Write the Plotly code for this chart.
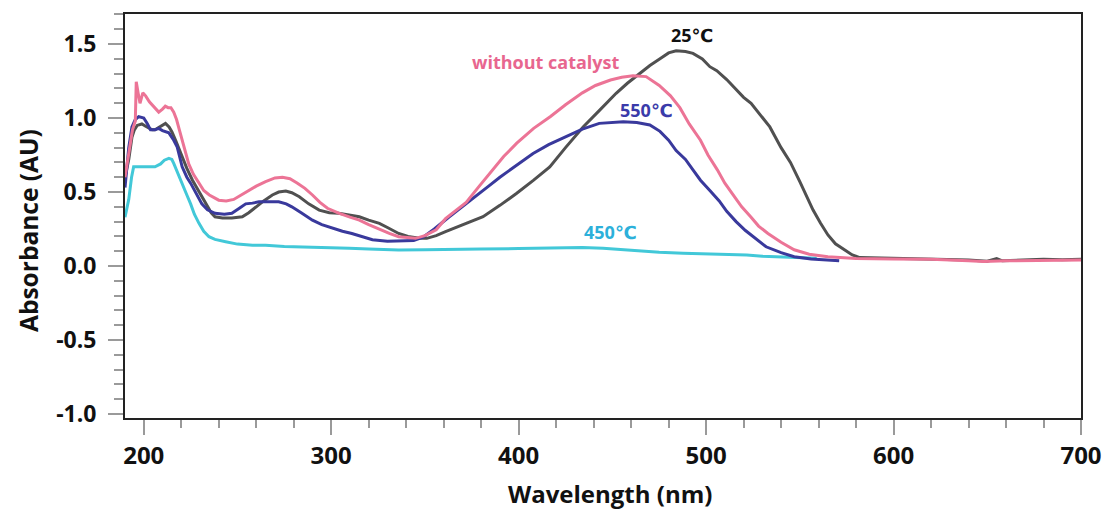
import plotly.graph_objects as go

# ---------------- data ----------------
wl_without = [190, 192, 194, 195.5, 196, 197, 198, 199.5, 201, 203, 204.5, 206, 208, 210, 211.5, 213, 214.5, 216,
              217.5, 219, 220.5, 222, 224, 226.5, 229.5, 232, 235, 240, 244, 248, 252, 256, 260, 265, 270, 274, 278,
              282, 286, 290, 294, 298, 304, 310, 315, 320, 326, 331, 336, 341, 345, 350, 356, 361, 366, 372, 379,
              386, 392, 399, 408, 417, 425, 434, 441, 449, 455, 461, 468, 475, 481, 486, 491, 497, 501, 506, 510,
              515, 519, 524, 528, 533, 540, 547, 555, 565, 580, 600, 620, 640, 648, 660, 680, 700]
abs_without = [0.60, 0.75, 0.92, 0.98, 1.245, 1.17, 1.10, 1.17, 1.15, 1.11, 1.09, 1.07, 1.04, 1.06, 1.08, 1.07, 1.07,
               1.04, 0.99, 0.92, 0.85, 0.78, 0.69, 0.62, 0.56, 0.51, 0.48, 0.445, 0.44, 0.45, 0.48, 0.51, 0.54, 0.57,
               0.595, 0.60, 0.59, 0.56, 0.525, 0.48, 0.43, 0.39, 0.357, 0.33, 0.31, 0.28, 0.245, 0.22, 0.198, 0.19,
               0.187, 0.205, 0.245, 0.32, 0.37, 0.43, 0.54, 0.65, 0.74, 0.83, 0.93, 1.01, 1.09, 1.17, 1.22, 1.257,
               1.275, 1.285, 1.28, 1.22, 1.15, 1.07, 0.96, 0.85, 0.75, 0.65, 0.56, 0.47, 0.40, 0.33, 0.27, 0.22,
               0.16, 0.11, 0.08, 0.062, 0.05, 0.048, 0.045, 0.035, 0.03, 0.035, 0.04, 0.04]

wl_25 = [190, 192, 193.7, 195, 196.5, 199, 201, 202.7, 204.5, 206, 208, 210, 211.6, 213.5, 215, 217, 220.5, 223, 226,
         229.5, 233, 236, 238, 242, 247, 252.6, 256, 259.7, 264, 268.6, 272, 275.8, 279, 283, 288, 293.6, 299, 304,
         310, 315, 320, 325.7, 330, 336, 341, 347, 351, 356, 361, 370, 381, 390, 398.8, 408, 416.6, 425, 434.4, 443,
         452, 458, 464.7, 470, 475.4, 480, 484, 489, 493, 498, 502, 505.7, 511, 516, 520, 524, 529, 534, 540, 545,
         550, 554, 557, 561, 565, 569, 574, 578, 582, 600, 620, 640, 650, 655, 658, 670, 680, 690, 700]
abs_25 = [0.60, 0.72, 0.87, 0.92, 0.95, 0.96, 0.945, 0.93, 0.92, 0.92, 0.935, 0.955, 0.964, 0.94, 0.907, 0.85, 0.74,
          0.66, 0.58, 0.50, 0.42, 0.36, 0.333, 0.325, 0.324, 0.333, 0.36, 0.40, 0.44, 0.48, 0.50, 0.507, 0.495, 0.468,
          0.42, 0.378, 0.36, 0.356, 0.345, 0.333, 0.31, 0.288, 0.26, 0.22, 0.20, 0.187, 0.187, 0.205, 0.232, 0.275,
          0.333, 0.41, 0.49, 0.58, 0.67, 0.80, 0.94, 1.05, 1.167, 1.235, 1.30, 1.355, 1.40, 1.44, 1.455, 1.45, 1.437,
          1.40, 1.347, 1.32, 1.26, 1.19, 1.14, 1.10, 1.02, 0.94, 0.80, 0.70, 0.57, 0.46, 0.38, 0.29, 0.21, 0.15,
          0.11, 0.075, 0.057, 0.052, 0.05, 0.04, 0.032, 0.05, 0.035, 0.04, 0.045, 0.042, 0.045]

wl_550 = [190, 192, 193.7, 195.5, 197.3, 200, 202, 203.6, 206, 208, 210, 213.4, 216, 217.8, 220.5, 223, 225, 228, 231,
          234, 238, 243, 247, 251, 254.4, 258, 261.5, 267, 272, 276, 279, 284, 290, 295, 300.7, 306, 311, 316, 322,
          330, 338, 344, 349, 355, 363, 370, 377, 384, 390, 399, 407.7, 416, 425.5, 434, 443, 450, 455.8, 463, 470,
          475.4, 480, 484, 489, 493, 497, 502, 507, 511, 516, 521, 527, 532, 540, 547, 556, 565, 571]
abs_550 = [0.53, 0.80, 0.94, 0.99, 1.01, 1.00, 0.96, 0.92, 0.92, 0.93, 0.915, 0.90, 0.85, 0.806, 0.67, 0.60, 0.56,
           0.49, 0.42, 0.38, 0.356, 0.35, 0.356, 0.39, 0.42, 0.425, 0.434, 0.435, 0.434, 0.42, 0.40, 0.36, 0.31,
           0.28, 0.255, 0.235, 0.22, 0.20, 0.178, 0.168, 0.168, 0.172, 0.195, 0.25, 0.333, 0.40, 0.468, 0.54, 0.60,
           0.68, 0.76, 0.82, 0.874, 0.925, 0.964, 0.972, 0.975, 0.97, 0.953, 0.91, 0.85, 0.78, 0.72, 0.65, 0.58,
           0.51, 0.44, 0.37, 0.30, 0.24, 0.18, 0.13, 0.09, 0.063, 0.048, 0.04, 0.035]

wl_450 = [190, 192, 193.5, 194.6, 197, 199, 203, 206, 209, 211, 213.4, 215, 216, 218, 220.5, 223, 225, 227, 229.4,
          232, 234.8, 238, 243.7, 250, 258, 265, 275, 283, 295, 309.6, 320, 336, 350, 361, 380, 400, 420, 434, 445,
          452, 465, 475, 487.7, 500, 510, 521.7, 530, 540, 550, 559]
abs_450 = [0.33, 0.45, 0.60, 0.67, 0.67, 0.67, 0.665, 0.67, 0.69, 0.715, 0.728, 0.72, 0.694, 0.63, 0.56, 0.48, 0.42,
           0.35, 0.29, 0.235, 0.198, 0.18, 0.164, 0.148, 0.14, 0.14, 0.132, 0.13, 0.125, 0.12, 0.115, 0.108, 0.11,
           0.113, 0.115, 0.118, 0.122, 0.125, 0.12, 0.113, 0.10, 0.093, 0.086, 0.082, 0.078, 0.074, 0.066, 0.06,
           0.055, 0.052]

x_tickvals = [200, 300, 400, 500, 600, 700]
x_ticktext = ["200", "300", "400", "500", "600", "700"]
y_tickvals = [-1.0, -0.5, 0.0, 0.5, 1.0, 1.5]
y_ticktext = ["-1.0", "-0.5", "0.0", "0.5", "1.0", "1.5"]

x_title = "Wavelength (nm)"
y_title = "Absorbance (AU)"

labels = ["25℃", "without catalyst", "550℃", "450℃"]
label_x = [492.6, 414.8, 468.0, 448.9]
label_y = [1.561, 1.378, 1.054, 0.23]

# ---------------- figure ----------------
C_PINK = "#EC7496"
C_GREY = "#505050"
C_NAVY = "#39399C"
C_CYAN = "#42C8D8"

fig = go.Figure()
fig.add_trace(go.Scatter(x=wl_450, y=abs_450, mode="lines", line=dict(color=C_CYAN, width=3), name="450℃"))
fig.add_trace(go.Scatter(x=wl_25, y=abs_25, mode="lines", line=dict(color=C_GREY, width=3), name="25℃"))
fig.add_trace(go.Scatter(x=wl_550, y=abs_550, mode="lines", line=dict(color=C_NAVY, width=3), name="550℃"))
fig.add_trace(go.Scatter(x=wl_without, y=abs_without, mode="lines", line=dict(color=C_PINK, width=3),
                         name="without catalyst"))

label_colors = ["#111111", "#E8668F", "#3B3BAA", "#2CB0DA"]
for t, lx, ly, c in zip(labels, label_x, label_y, label_colors):
    fig.add_annotation(x=lx, y=ly, xref="x", yref="y", text=t, showarrow=False,
                       font=dict(family="Open Sans, DejaVu Sans", size=18, color=c, weight="bold"))

# axis titles (placed to match the reference's offsets)
fig.add_annotation(x=0.5073, y=-0.188, xref="paper", yref="paper", text=x_title, showarrow=False,
                   xanchor="center", yanchor="middle",
                   font=dict(family="Open Sans", size=24, color="#111111", weight="bold"))
fig.add_annotation(x=-0.1015, y=0.4653, xref="paper", yref="paper", text=y_title, showarrow=False,
                   textangle=-90, xanchor="center", yanchor="middle",
                   font=dict(family="Open Sans", size=24.5, color="#111111", weight="bold"))

fig.update_layout(
    width=1107, height=510,
    margin=dict(l=125, r=26, t=14, b=92, autoexpand=False),
    paper_bgcolor="white", plot_bgcolor="white",
    showlegend=False,
    font=dict(family="Open Sans", color="#111111"),
)
fig.update_xaxes(
    automargin=False,
    range=[190, 700], tickmode="array", tickvals=x_tickvals, ticktext=x_ticktext,
    ticks="outside", ticklen=15, tickwidth=1.5, tickcolor="#9a9a9a",
    minor=dict(ticks="outside", ticklen=8, tickwidth=1.5, tickcolor="#9a9a9a", dtick=20, tick0=200, showgrid=False),
    showline=True, linecolor="#222222", linewidth=2, mirror=True, showgrid=False, zeroline=False,
    tickfont=dict(family="Open Sans", size=24, color="#111111", weight="bold"),
)
fig.update_yaxes(
    automargin=False,
    range=[-1.027, 1.703], tickmode="array", tickvals=y_tickvals, ticktext=y_ticktext,
    ticks="outside", ticklen=15, tickwidth=1.5, tickcolor="#9a9a9a",
    minor=dict(ticks="outside", ticklen=9, tickwidth=1.5, tickcolor="#9a9a9a", dtick=0.1, tick0=0, showgrid=False),
    showline=True, linecolor="#222222", linewidth=2, mirror=True, showgrid=False, zeroline=False,
    tickfont=dict(family="Open Sans", size=23, color="#111111", weight="bold"),
    ticklabelstandoff=7,
)

fig.write_html(
    "out.html",
    config={"displayModeBar": False},
    post_script="document.body.style.margin='0';document.body.style.overflow='hidden';",
)
